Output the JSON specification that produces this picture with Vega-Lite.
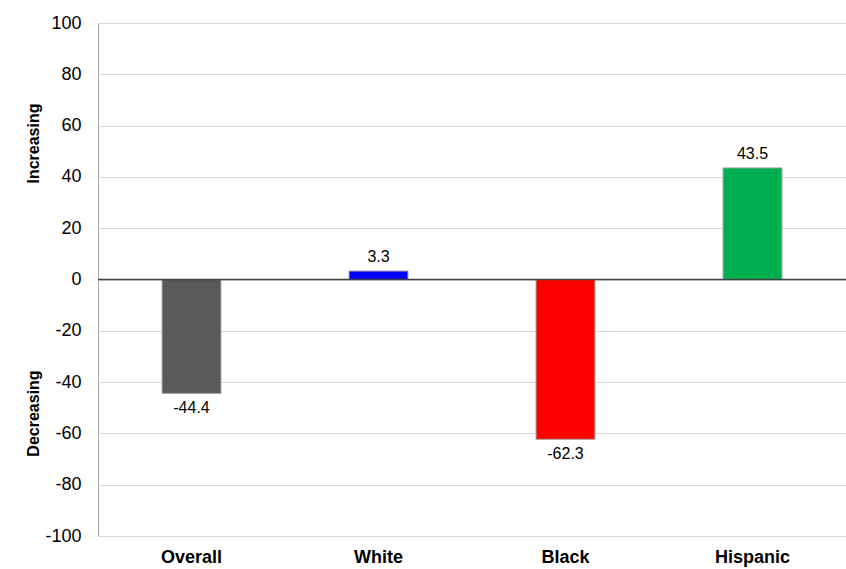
{
  "$schema": "https://vega.github.io/schema/vega-lite/v6.json",
  "width": 748,
  "height": 513,
  "autosize": "none",
  "padding": {"left": 98, "top": 23, "right": 0, "bottom": 33},
  "background": "white",
  "config": {
    "font": "Liberation Sans",
    "view": {"stroke": "#a6a6a6", "strokeWidth": 1}
  },
  "data": {
    "values": [
      {"group": "Overall", "value": -44.4, "label": "-44.4"},
      {"group": "White", "value": 3.3, "label": "3.3"},
      {"group": "Black", "value": -62.3, "label": "-62.3"},
      {"group": "Hispanic", "value": 43.5, "label": "43.5"}
    ]
  },
  "encoding": {
    "x": {
      "field": "group",
      "type": "nominal",
      "sort": ["Overall", "White", "Black", "Hispanic"],
      "scale": {"paddingInner": 0.685, "paddingOuter": 0.3425},
      "axis": {
        "title": null,
        "labelAngle": 0,
        "labelFont": "Liberation Sans",
        "labelFontSize": 18,
        "labelFontWeight": "bold",
        "labelColor": "#000000",
        "labelPadding": 12,
        "ticks": false,
        "domain": false
      }
    }
  },
  "layer": [
    {
      "mark": {"type": "bar", "stroke": "#a0a0a0", "strokeWidth": 1},
      "encoding": {
        "y": {
          "field": "value",
          "type": "quantitative",
          "scale": {"domain": [-100, 100], "nice": false},
          "axis": {
            "title": "Increasing",
            "titleFont": "Liberation Sans",
            "titleFontSize": 16,
            "titleFontWeight": "bold",
            "titleColor": "#000000",
            "titleAngle": -90,
            "titleAlign": "center",
            "titleBaseline": "middle",
            "titleX": -65,
            "titleY": 120,
            "values": [-100, -80, -60, -40, -20, 0, 20, 40, 60, 80, 100],
            "labelExpr": "datum.value + ''",
            "labelFont": "Liberation Sans",
            "labelFontSize": 18,
            "labelColor": "#000000",
            "labelPadding": 17,
            "ticks": false,
            "domain": false,
            "grid": true,
            "gridColor": "#d9d9d9",
            "gridWidth": 1
          }
        },
        "color": {
          "field": "group",
          "type": "nominal",
          "scale": {
            "domain": ["Overall", "White", "Black", "Hispanic"],
            "range": ["#595959", "#0000ff", "#ff0000", "#00b050"]
          },
          "legend": null
        }
      }
    },
    {
      "mark": {"type": "rule", "color": "#404040", "strokeWidth": 1.5},
      "data": {"values": [{"zero": 0}]},
      "encoding": {
        "x": null,
        "y": {
          "field": "zero",
          "type": "quantitative",
          "scale": {"domain": [-100, 100], "nice": false},
          "axis": {
            "title": "Decreasing",
            "titleFont": "Liberation Sans",
            "titleFontSize": 16,
            "titleFontWeight": "bold",
            "titleColor": "#000000",
            "titleAngle": -90,
            "titleAlign": "center",
            "titleBaseline": "middle",
            "titleX": -65,
            "titleY": 390,
            "labels": false,
            "ticks": false,
            "domain": false,
            "grid": false,
            "orient": "left"
          }
        }
      }
    },
    {
      "transform": [{"filter": "datum.value >= 0"}],
      "mark": {"type": "text", "baseline": "bottom", "dy": -6, "fontSize": 16, "color": "#000000", "font": "Liberation Sans"},
      "encoding": {
        "y": {"field": "value", "type": "quantitative", "scale": {"domain": [-100, 100], "nice": false}, "axis": null},
        "text": {"field": "label", "type": "nominal"}
      }
    },
    {
      "transform": [{"filter": "datum.value < 0"}],
      "mark": {"type": "text", "baseline": "top", "dy": 7, "fontSize": 16, "color": "#000000", "font": "Liberation Sans"},
      "encoding": {
        "y": {"field": "value", "type": "quantitative", "scale": {"domain": [-100, 100], "nice": false}, "axis": null},
        "text": {"field": "label", "type": "nominal"}
      }
    }
  ],
  "resolve": {"scale": {"y": "independent"}, "axis": {"y": "independent"}}
}
